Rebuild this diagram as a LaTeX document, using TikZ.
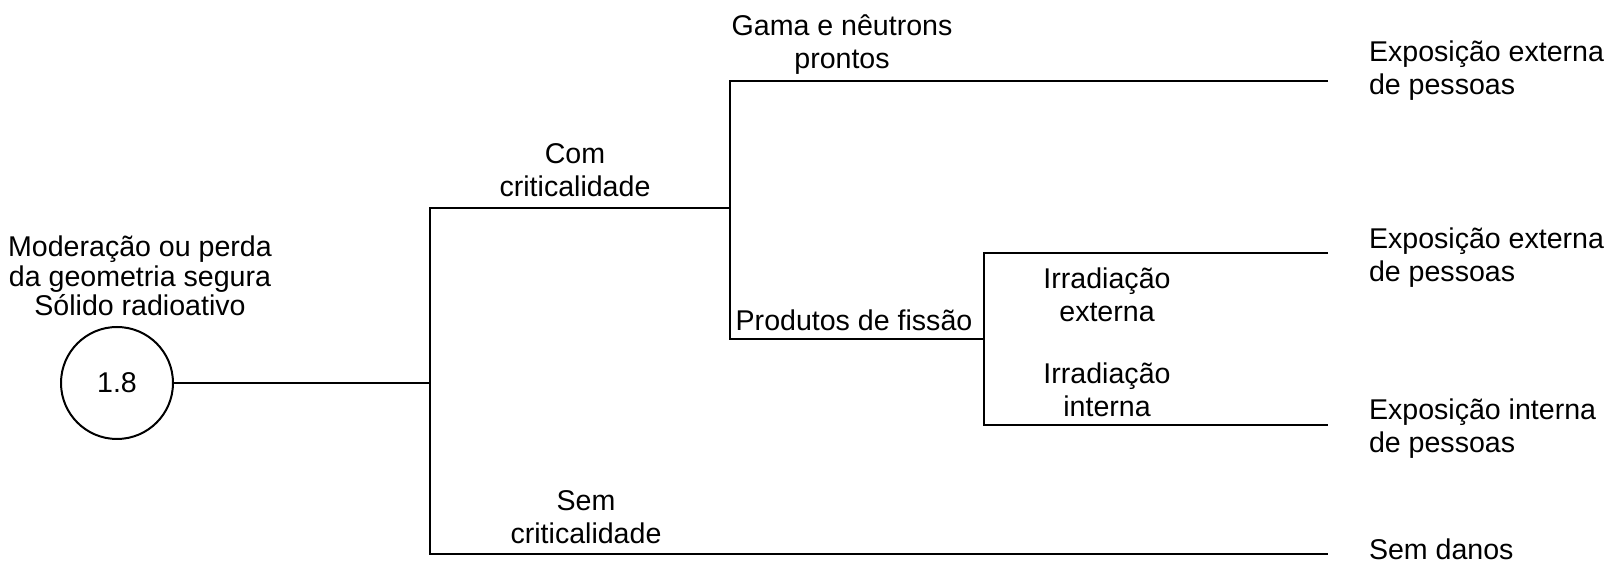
\documentclass[tikz,border=0pt]{standalone}
\usepackage{fontspec}
\setmainfont{Liberation Sans}
\usetikzlibrary{positioning}

\begin{document}
\begin{tikzpicture}[x=0.35pt, y=-0.35pt, line width=0.7pt,
    every node/.style={font=\fontsize{10}{11.6}\selectfont, inner sep=0pt, align=center},
    outcome/.style={anchor=west, align=left}]
        \useasboundingbox (0,0) rectangle (1611,565);
        % initiating event
        \node[circle, draw, minimum size=39.2pt] (ev) at (117,383) {1.8};
        \node[font=\fontsize{10}{10.3}\selectfont] (evtxt) at (140,276) {Moderação ou perda\\da geometria segura\\Sólido radioativo};
        % branch points
        \coordinate (b0) at (430,383);
        \coordinate (b0t) at (430,208);
        \coordinate (b0b) at (430,554);
        \coordinate (b1) at (730,208);
        \coordinate (b1t) at (730,81);
        \coordinate (b1b) at (730,339);
        \coordinate (b2) at (984,339);
        \coordinate (b2t) at (984,253);
        \coordinate (b2b) at (984,425);
        % line ends
        \coordinate (e1) at (1328,81);
        \coordinate (e2) at (1328,253);
        \coordinate (e3) at (1328,425);
        \coordinate (e4) at (1328,554);
        \draw (ev) -- (b0);
        \draw (b1) -- (b0t) -- (b0b) -- (e4);
        \draw (e1) -- (b1t) -- (b1b) -- (b2);
        \draw (e2) -- (b2t) -- (b2b) -- (e3);
        % branch labels
        \node (gama) at (842,45) {Gama e nêutrons\\prontos};
        \node (com) at (575,170) {Com\\criticalidade};
        \node (prod) at (854,320) {Produtos de fissão};
        \node (irrext) at (1107,295) {Irradiação\\externa};
        \node (irrint) at (1107,390) {Irradiação\\interna};
        \node (sem) at (586,517) {Sem\\criticalidade};
        % outcomes
        \node[outcome] (o1) at (1368,71) {Exposição externa\\de pessoas};
        \node[outcome] (o2) at (1368,258) {Exposição externa\\de pessoas};
        \node[outcome] (o3) at (1368,429) {Exposição interna\\de pessoas};
        \node[outcome] (o4) at (1368,549) {Sem danos};
      \end{tikzpicture}
\end{document}
